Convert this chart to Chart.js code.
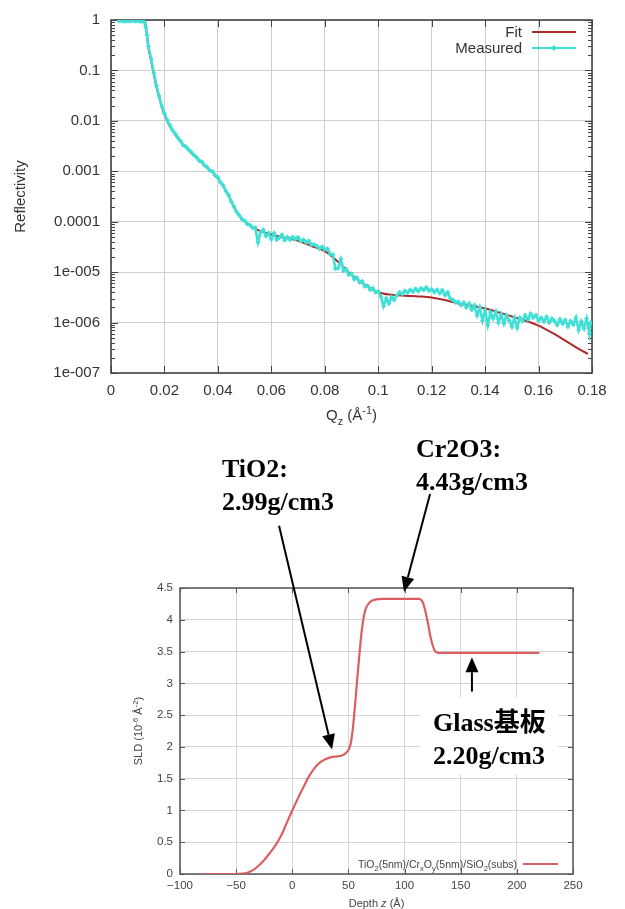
<!DOCTYPE html>
<html>
<head>
<meta charset="utf-8">
<script src="https://cdn.jsdelivr.net/npm/chart.js@4/dist/chart.umd.min.js"></script>
<style>
  html, body { margin: 0; padding: 0; background: #fff; }
  #wrap { position: relative; width: 625px; height: 909px; overflow: hidden; background: #fff; }
  canvas { position: absolute; left: 0; }
  #refl { top: 0; width: 625px; height: 430px; }
  #sld { top: 430px; width: 625px; height: 479px; }
</style>
</head>
<body>
<div id="wrap">
  <canvas id="refl" width="625" height="430"></canvas>
  <canvas id="sld" width="625" height="479"></canvas>
</div>
<script>
// ---------- Reflectivity: fitted curve ----------
const qFit = [0.002, 0.006, 0.010, 0.0125, 0.013, 0.0135, 0.014,
  0.015, 0.016, 0.017, 0.018, 0.019, 0.020, 0.021, 0.022,
  0.024, 0.026, 0.028, 0.030, 0.032, 0.034, 0.036, 0.038, 0.040, 0.042, 0.044, 0.046, 0.048, 0.050, 0.052,
  0.055, 0.060, 0.065, 0.070, 0.075, 0.080, 0.085, 0.090, 0.095, 0.100, 0.105, 0.110, 0.115, 0.120,
  0.125, 0.130, 0.135, 0.140, 0.145, 0.150, 0.155, 0.160, 0.165, 0.170, 0.175, 0.1785];
const rFit = [1, 1, 1, 1, 0.8, 0.45, 0.28,
  0.16, 0.085, 0.047, 0.03, 0.019, 0.0135, 0.01, 0.0079,
  0.0054, 0.0039, 0.0030, 0.0023, 0.00186, 0.0015, 0.00118, 0.00096, 0.00073, 0.00051, 0.00033, 0.000196, 0.000132, 0.000102, 8.3e-5,
  6.8e-5, 5.6e-5, 4.8e-5, 4.2e-5, 3.3e-5, 2.6e-5, 1.6e-5, 8.9e-6, 5.6e-6, 4.0e-6, 3.55e-6, 3.4e-6, 3.3e-6, 3.15e-6,
  2.8e-6, 2.4e-6, 2.15e-6, 1.9e-6, 1.6e-6, 1.32e-6, 1.1e-6, 8.7e-7, 6.3e-7, 4.4e-7, 3.0e-7, 2.4e-7];

// ---------- Reflectivity: measured points ----------
const qMeasured = [0.003, 0.004, 0.005, 0.006, 0.007, 0.008, 0.009, 0.010, 0.011, 0.012, 0.0125, 0.013, 0.0135,
  0.014, 0.015, 0.016, 0.017, 0.018, 0.019, 0.020, 0.021, 0.022, 0.023,
  0.024, 0.025, 0.026, 0.027, 0.028, 0.029, 0.030, 0.031, 0.032, 0.033,
  0.034, 0.035, 0.036, 0.037, 0.038, 0.039, 0.040, 0.041, 0.042, 0.043,
  0.044, 0.045, 0.046, 0.047, 0.048, 0.049, 0.050, 0.051, 0.052, 0.053,
  0.054, 0.055, 0.056, 0.057, 0.058, 0.059, 0.060, 0.061, 0.062, 0.063,
  0.064, 0.065, 0.066, 0.067, 0.068, 0.069, 0.070, 0.071, 0.072, 0.073,
  0.074, 0.075, 0.076, 0.077, 0.078, 0.079, 0.080, 0.081, 0.082, 0.083,
  0.084, 0.085, 0.086, 0.087, 0.088, 0.089, 0.090, 0.091, 0.092, 0.093,
  0.094, 0.095, 0.096, 0.097, 0.098, 0.099, 0.100, 0.101, 0.102, 0.103,
  0.104, 0.105, 0.106, 0.107, 0.108, 0.109, 0.110, 0.111, 0.112, 0.113,
  0.114, 0.115, 0.116, 0.117, 0.118, 0.119, 0.120, 0.121, 0.122, 0.123,
  0.124, 0.125, 0.126, 0.127, 0.128, 0.129, 0.130, 0.131, 0.132, 0.133,
  0.134, 0.135, 0.136, 0.137, 0.138, 0.139, 0.140, 0.141, 0.142, 0.143,
  0.144, 0.145, 0.146, 0.147, 0.148, 0.149, 0.150, 0.151, 0.152, 0.153,
  0.154, 0.155, 0.156, 0.157, 0.158, 0.159, 0.160, 0.161, 0.162, 0.163,
  0.164, 0.165, 0.166, 0.167, 0.168, 0.169, 0.170, 0.171, 0.172, 0.173,
  0.174, 0.175, 0.176, 0.177, 0.178, 0.179, 0.1795];
const rMeasured = [0.95, 0.97, 0.93, 0.96, 0.94, 0.97, 0.95, 0.96, 0.93, 0.95, 0.90, 0.72, 0.50,
  0.30, 0.17, 0.09, 0.05, 0.031, 0.0195, 0.014, 0.0104, 0.0083, 0.0066,
  0.0056, 0.0047, 0.0040, 0.0033, 0.0031, 0.0027, 0.0024, 0.0021, 0.0019, 0.00162,
  0.00155, 0.00132, 0.00122, 0.00104, 0.00099, 0.00082, 0.00075, 0.00060, 0.00052, 0.00040,
  0.00034, 0.00025, 0.000200, 0.000155, 0.000134, 0.000112, 0.000104, 9.0e-5, 8.6e-5, 7.6e-5,
  7.6e-5, 3.9e-5, 6.2e-5, 6.9e-5, 5.2e-5, 6.0e-5, 4.5e-5, 5.9e-5, 4.4e-5, 4.8e-5,
  5.5e-5, 4.3e-5, 5.0e-5, 4.4e-5, 5.0e-5, 4.5e-5, 4.9e-5, 4.1e-5, 4.4e-5, 3.9e-5,
  4.2e-5, 3.5e-5, 3.55e-5, 3.3e-5, 2.9e-5, 3.2e-5, 2.8e-5, 2.9e-5, 2.3e-5, 2.2e-5,
  1.17e-5, 1.2e-5, 1.8e-5, 1.07e-5, 1.15e-5, 8.9e-6, 9.3e-6, 7.2e-6, 7.8e-6, 6.3e-6,
  6.6e-6, 5.2e-6, 5.4e-6, 4.5e-6, 4.8e-6, 4.0e-6, 4.2e-6, 3.3e-6, 2.1e-6, 3.0e-6,
  2.4e-6, 3.2e-6, 2.8e-6, 3.5e-6, 4.0e-6, 3.7e-6, 4.3e-6, 3.9e-6, 4.5e-6, 4.1e-6,
  4.7e-6, 4.2e-6, 4.8e-6, 4.4e-6, 5.0e-6, 4.3e-6, 4.6e-6, 4.0e-6, 4.5e-6, 3.8e-6,
  4.4e-6, 3.5e-6, 4.0e-6, 3.0e-6, 2.8e-6, 2.5e-6, 2.6e-6, 2.2e-6, 2.5e-6, 2.0e-6,
  2.4e-6, 1.8e-6, 2.2e-6, 1.4e-6, 2.0e-6, 1.1e-6, 1.75e-6, 8.9e-7, 1.6e-6, 1.2e-6,
  1.65e-6, 1.0e-6, 1.45e-6, 9.5e-7, 1.4e-6, 1.1e-6, 8.3e-7, 1.25e-6, 7.9e-7, 1.25e-6,
  1.07e-6, 1.4e-6, 1.15e-6, 1.5e-6, 1.25e-6, 1.4e-6, 1.1e-6, 1.25e-6, 1.05e-6, 1.3e-6,
  1.0e-6, 1.2e-6, 1.07e-6, 8.9e-7, 1.17e-6, 9.5e-7, 1.12e-6, 8.3e-7, 1.07e-6, 9.1e-7,
  1.25e-6, 7.1e-7, 1.05e-6, 7.6e-7, 1.2e-6, 6.0e-7, 1.0e-6];

// ---------- Reflectivity axis ticks ----------
const qTickValues = [0, 0.02, 0.04, 0.06, 0.08, 0.10, 0.12, 0.14, 0.16, 0.18];
const qTickLabels = ['0', '0.02', '0.04', '0.06', '0.08', '0.1', '0.12', '0.14', '0.16', '0.18'];
const reflTickValues = [1e-7, 1e-6, 1e-5, 1e-4, 1e-3, 1e-2, 1e-1, 1];
const reflTickLabels = ['1e-007', '1e-006', '1e-005', '0.0001', '0.001', '0.01', '0.1', '1'];

// ---------- SLD depth profile ----------
const depth = [-80, -75, -70, -65, -60, -55, -50, -45, -40, -35, -30, -25, -20, -15, -10, -5,
  0, 5, 10, 15, 20, 25, 30, 35, 40, 45, 50,
  52, 54, 56, 58, 60, 62, 64, 66,
  70, 75, 80, 90, 100, 110,
  113, 115, 117, 119, 121, 123, 125, 127, 130,
  140, 160, 180, 200, 220];
const sld = [0, 0, 0, 0, 0, 0, 0, 0.005, 0.02, 0.06, 0.13, 0.22, 0.33, 0.45, 0.6, 0.8,
  1.0, 1.19, 1.37, 1.54, 1.67, 1.76, 1.81, 1.84, 1.85, 1.87, 1.95,
  2.05, 2.3, 2.68, 3.1, 3.5, 3.85, 4.08, 4.2,
  4.29, 4.32, 4.33, 4.33, 4.33, 4.33,
  4.33, 4.31, 4.24, 4.1, 3.93, 3.74, 3.6, 3.51, 3.48,
  3.48, 3.48, 3.48, 3.48, 3.48];
const depthTickValues = [-100, -50, 0, 50, 100, 150, 200, 250];
const sldTickValues = [0, 0.5, 1, 1.5, 2, 2.5, 3, 3.5, 4, 4.5];

// Layer annotations on the profile
const layerNotes = [
  { lines: ['TiO2:', '2.99g/cm3'] },
  { lines: ['Cr2O3:', '4.43g/cm3'] },
  { lines: ['Glass基板', '2.20g/cm3'] }
];

// ---------- helpers ----------
const SANS = '"Liberation Sans", Arial, Helvetica, sans-serif';
const toXY = (xs, ys) => xs.map((x, i) => ({ x: x, y: ys[i] }));

// draws text made of runs: [text, mode] with mode 0 normal, -1 subscript, 1 superscript, 'i' italic
function drawRich(ctx, parts, x, y, size, family, color, align) {
  ctx.save();
  ctx.fillStyle = color;
  ctx.textBaseline = 'alphabetic';
  ctx.textAlign = 'left';
  const fontFor = p => {
    const s = (p[1] === 1 || p[1] === -1) ? size * 0.72 : size;
    return (p[1] === 'i' ? 'italic ' : '') + s + 'px ' + family;
  };
  let w = 0;
  for (const p of parts) { ctx.font = fontFor(p); w += ctx.measureText(p[0]).width; }
  let cx = align === 'center' ? x - w / 2 : (align === 'right' ? x - w : x);
  const base = y + size * 0.36;
  for (const p of parts) {
    ctx.font = fontFor(p);
    const dy = p[1] === -1 ? size * 0.28 : (p[1] === 1 ? -size * 0.4 : 0);
    ctx.fillText(p[0], cx, base + dy);
    cx += ctx.measureText(p[0]).width;
  }
  ctx.restore();
  return w;
}

// frame round the plot area with inward tick marks on all four sides
function frameTicks(o) {
  return {
    id: 'frameTicks',
    beforeDatasetsDraw(chart) {
      const { ctx, chartArea: a, scales } = chart;
      const x = scales.x, y = scales.y;
      ctx.save();
      ctx.strokeStyle = o.color;
      ctx.lineWidth = 1;
      ctx.beginPath();
      for (const t of x.ticks) {
        const px = Math.round(x.getPixelForValue(t.value)) + 0.5;
        ctx.moveTo(px, a.bottom); ctx.lineTo(px, a.bottom - o.major);
        ctx.moveTo(px, a.top); ctx.lineTo(px, a.top + o.major);
      }
      for (const t of y.ticks) {
        const py = Math.round(y.getPixelForValue(t.value)) + 0.5;
        ctx.moveTo(a.left, py); ctx.lineTo(a.left + o.major, py);
        ctx.moveTo(a.right, py); ctx.lineTo(a.right - o.major, py);
      }
      if (o.logMinor) {
        for (let e = -7; e < 0; e++) {
          for (let m = 2; m <= 9; m++) {
            const py = Math.round(y.getPixelForValue(m * Math.pow(10, e))) + 0.5;
            ctx.moveTo(a.left, py); ctx.lineTo(a.left + o.minor, py);
            ctx.moveTo(a.right, py); ctx.lineTo(a.right - o.minor, py);
          }
        }
      }
      ctx.stroke();
      ctx.lineWidth = o.width;
      ctx.strokeRect(a.left, a.top, a.right - a.left, a.bottom - a.top);
      ctx.restore();
    }
  };
}

function axisTitles(o) {
  return {
    id: 'axisTitles',
    afterDraw(chart) {
      const { ctx, chartArea: a } = chart;
      drawRich(ctx, o.x, (a.left + a.right) / 2 + (o.xShift || 0), a.bottom + o.xOffset, o.size, SANS, o.color, 'center');
      ctx.save();
      ctx.translate(a.left - o.yOffset, (a.top + a.bottom) / 2 + (o.yShift || 0));
      ctx.rotate(-Math.PI / 2);
      drawRich(ctx, o.y, 0, 0, o.size, SANS, o.color, 'center');
      ctx.restore();
    }
  };
}

// ---------- Reflectivity chart ----------
const reflLegend = {
  id: 'reflLegend',
  afterDatasetsDraw(chart) {
    const { ctx, chartArea: a } = chart;
    chart.data.datasets.forEach((ds, i) => {
      const y = a.top + 12 + i * 16;
      drawRich(ctx, [[ds.label, 0]], a.right - 70, y, 15, SANS, '#333', 'right');
      ctx.save();
      ctx.strokeStyle = ds.borderColor;
      ctx.lineWidth = 2;
      ctx.beginPath();
      ctx.moveTo(a.right - 60, y); ctx.lineTo(a.right - 16, y);
      ctx.stroke();
      if (ds.pointRadius) {
        const cx = a.right - 38, r = 3;
        ctx.fillStyle = ds.backgroundColor;
        ctx.beginPath();
        ctx.moveTo(cx, y - r); ctx.lineTo(cx + r, y); ctx.lineTo(cx, y + r); ctx.lineTo(cx - r, y);
        ctx.closePath(); ctx.fill();
      }
      ctx.restore();
    });
  }
};

const tickFontTop = { family: SANS, size: 15 };
new Chart(document.getElementById('refl'), {
  type: 'line',
  data: {
    datasets: [
      { label: 'Fit', data: toXY(qFit, rFit), borderColor: '#b02a2a', backgroundColor: '#b02a2a',
        borderWidth: 2, pointRadius: 0, cubicInterpolationMode: 'monotone', order: 1 },
      { label: 'Measured', data: toXY(qMeasured, rMeasured), borderColor: '#3fe0d6', backgroundColor: '#3fe0d6',
        borderWidth: 2.6, pointRadius: 2.5, pointStyle: 'rectRot', pointBorderWidth: 0, order: 0 }
    ]
  },
  options: {
    responsive: false,
    animation: false,
    events: [],
    layout: { padding: { top: 19, right: 33, left: 0, bottom: 0 } },
    plugins: { legend: { display: false }, tooltip: { enabled: false } },
    scales: {
      x: {
        type: 'linear', min: 0, max: 0.18,
        afterFit(s) { s.height = 57; },
        afterBuildTicks(s) { s.ticks = qTickValues.map(v => ({ value: v })); },
        ticks: { callback: (v, i) => qTickLabels[i], padding: 9, font: tickFontTop, color: '#333', autoSkip: false, maxRotation: 0 },
        grid: { color: '#cfcfcf', lineWidth: 1, drawTicks: false },
        border: { display: false }
      },
      y: {
        type: 'logarithmic', min: 1e-7, max: 1,
        afterFit(s) { s.width = 111; },
        afterBuildTicks(s) { s.ticks = reflTickValues.map(v => ({ value: v })); },
        ticks: { callback: (v, i) => reflTickLabels[i], padding: 11, font: tickFontTop, color: '#333', autoSkip: false },
        grid: { color: '#cfcfcf', lineWidth: 1, drawTicks: false },
        border: { display: false }
      }
    }
  },
  plugins: [
    frameTicks({ color: '#444', width: 1.6, major: 7, minor: 4, logMinor: true }),
    reflLegend,
    axisTitles({
      x: [['Q', 0], ['z', -1], [' (Å', 0], ['-1', 1], [')', 0]],
      y: [['Reflectivity', 0]],
      xOffset: 42, yOffset: 91, size: 15, color: '#333'
    })
  ]
});

// ---------- SLD profile chart ----------
const sldLegend = {
  id: 'sldLegend',
  afterDatasetsDraw(chart) {
    const { ctx, chartArea: a } = chart;
    const ds = chart.data.datasets[0];
    const y = a.bottom - 10;
    drawRich(ctx, [['TiO', 0], ['2', -1], ['(5nm)/Cr', 0], ['x', -1], ['O', 0], ['y', -1], ['(5nm)/SiO', 0], ['2', -1], ['(subs)', 0]],
      a.right - 56, y, 10.5, SANS, '#444', 'right');
    ctx.save();
    ctx.strokeStyle = ds.borderColor;
    ctx.lineWidth = ds.borderWidth;
    ctx.beginPath();
    ctx.moveTo(a.right - 50, y); ctx.lineTo(a.right - 15, y);
    ctx.stroke();
    ctx.restore();
  }
};

function arrow(ctx, x0, y0, x1, y1) {
  const ang = Math.atan2(y1 - y0, x1 - x0);
  const L = 15, H = 6.5;
  const bx = x1 - L * Math.cos(ang), by = y1 - L * Math.sin(ang);
  ctx.beginPath();
  ctx.moveTo(x0, y0); ctx.lineTo(bx, by);
  ctx.stroke();
  ctx.beginPath();
  ctx.moveTo(x1, y1);
  ctx.lineTo(bx + H * Math.sin(ang), by - H * Math.cos(ang));
  ctx.lineTo(bx - H * Math.sin(ang), by + H * Math.cos(ang));
  ctx.closePath();
  ctx.fill();
}

const layerAnnotations = {
  id: 'layerAnnotations',
  afterDraw(chart) {
    const { ctx, scales: { x, y } } = chart;
    // arrows: tail and tip given in depth / SLD units
    const arrows = [
      { from: [-11.8, 5.48], to: [35.4, 1.96] },
      { from: [122.7, 5.98], to: [99.5, 4.44] },
      { from: [160, 2.87], to: [160, 3.41] }
    ];
    const textPos = [
      { left: 222, base: 47 },
      { left: 416, base: 27 },
      { left: 433, base: 301 }
    ];
    ctx.save();
    // clear backdrop behind the substrate label
    ctx.fillStyle = '#fff';
    ctx.fillRect(420, 267, 138, 77);
    ctx.strokeStyle = '#000';
    ctx.fillStyle = '#000';
    ctx.lineWidth = 2;
    for (const a of arrows) {
      arrow(ctx, x.getPixelForValue(a.from[0]), y.getPixelForValue(a.from[1]),
        x.getPixelForValue(a.to[0]), y.getPixelForValue(a.to[1]));
    }
    ctx.font = 'bold 26px "Liberation Serif", "Times New Roman", "Noto Sans CJK JP", serif';
    ctx.textBaseline = 'alphabetic';
    ctx.textAlign = 'left';
    layerNotes.forEach((n, i) => {
      n.lines.forEach((line, j) => ctx.fillText(line, textPos[i].left, textPos[i].base + j * 32.5));
    });
    ctx.restore();
  }
};

const tickFontBottom = { family: SANS, size: 11.5 };
new Chart(document.getElementById('sld'), {
  type: 'line',
  data: {
    datasets: [
      { label: 'TiO2(5nm)/CrxOy(5nm)/SiO2(subs)', data: toXY(depth, sld), borderColor: '#d95f62',
        borderWidth: 2.2, pointRadius: 0, cubicInterpolationMode: 'monotone' }
    ]
  },
  options: {
    responsive: false,
    animation: false,
    events: [],
    layout: { padding: { top: 158, right: 52, left: 0, bottom: 0 } },
    plugins: { legend: { display: false }, tooltip: { enabled: false } },
    scales: {
      x: {
        type: 'linear', min: -100, max: 250,
        afterFit(s) { s.height = 35; },
        afterBuildTicks(s) { s.ticks = depthTickValues.map(v => ({ value: v })); },
        ticks: { callback: v => (v < 0 ? '\u2212' + Math.abs(v) : String(v)), padding: 5, font: tickFontBottom, color: '#444', autoSkip: false, maxRotation: 0 },
        grid: { color: '#d4d4d4', lineWidth: 1, drawTicks: false },
        border: { display: false }
      },
      y: {
        type: 'linear', min: 0, max: 4.5,
        afterFit(s) { s.width = 180; },
        afterBuildTicks(s) { s.ticks = sldTickValues.map(v => ({ value: v })); },
        ticks: { callback: v => String(v), padding: 7, font: tickFontBottom, color: '#444', autoSkip: false },
        grid: { color: '#d4d4d4', lineWidth: 1, drawTicks: false },
        border: { display: false }
      }
    }
  },
  plugins: [
    frameTicks({ color: '#555', width: 1.5, major: 5, minor: 0, logMinor: false }),
    sldLegend,
    axisTitles({
      x: [['Depth ', 0], ['z', 'i'], [' (Å)', 0]],
      y: [['SLD (10', 0], ['-6', 1], [' Å', 0], ['-2', 1], [')', 0]],
      xOffset: 29, yOffset: 42, size: 11, color: '#444'
    }),
    layerAnnotations
  ]
});
</script>
</body>
</html>
